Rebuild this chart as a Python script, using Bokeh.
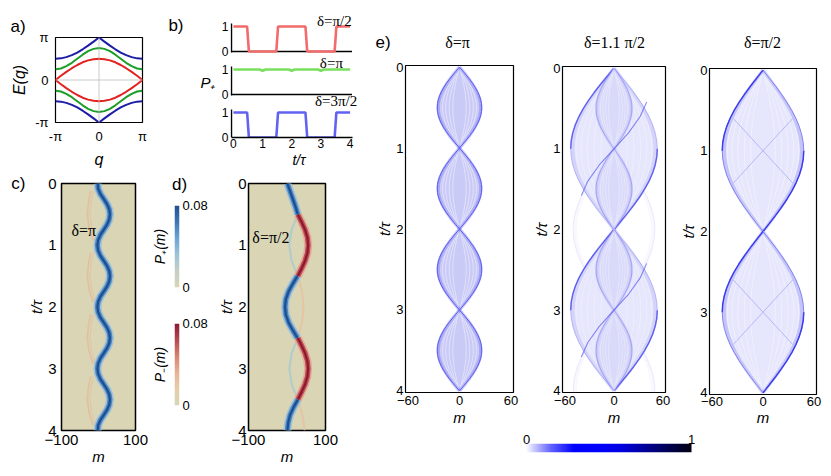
import numpy as np
from bokeh.plotting import figure
from bokeh.layouts import row, column
from bokeh.models import (Label, Span, FixedTicker, Range1d, LinearColorMapper,
                          LinearAxis, Title, Spacer)
from bokeh.embed import file_html
from bokeh.resources import INLINE

SANS = "Liberation Sans"
SERIF = "Liberation Serif"

# ---------------- data ----------------
# (a) quasi-energy bands E(q)
q_vals = [-3.14, -2.75, -2.36, -1.96, -1.57, -1.18, -0.79, -0.39, 0.0,
          0.39, 0.79, 1.18, 1.57, 1.96, 2.36, 2.75, 3.14]
E_red = [0.00, 0.31, 0.60, 0.87, 1.11, 1.31, 1.45, 1.54, 1.57,
         1.54, 1.45, 1.31, 1.11, 0.87, 0.60, 0.31, 0.00]
E_green = [0.79, 0.85, 1.02, 1.27, 1.57, 1.87, 2.13, 2.30, 2.36,
           2.30, 2.13, 1.87, 1.57, 1.27, 1.02, 0.85, 0.79]
E_blue = [1.57, 1.60, 1.69, 1.84, 2.03, 2.27, 2.54, 2.84, 3.14,
          2.84, 2.54, 2.27, 2.03, 1.84, 1.69, 1.60, 1.57]

# (b) P+ vs t/tau
t_b = [0.0, 0.47, 0.53, 1.47, 1.53, 2.47, 2.53, 3.47, 3.53, 4.0]
P_half = [1, 1, 0, 0, 1, 1, 0, 0, 1, 1]
P_3half = [1, 1, 0, 0, 1, 1, 0, 0, 1, 1]
t_g = [0.0, 0.9, 1.0, 1.1, 1.9, 2.0, 2.1, 2.9, 3.0, 3.1, 4.0]
P_pi = [1.0, 1.0, 0.95, 1.0, 1.0, 0.95, 1.0, 1.0, 0.95, 1.0, 1.0]
b_ticks = [0, 1, 2, 3, 4]
P_ticks = [0, 1]

# (c) delta = pi : packet centre
t_c = [0.0, 0.083, 0.167, 0.25, 0.333, 0.417, 0.5, 0.583, 0.667, 0.75, 0.833, 0.917,
       1.0, 1.083, 1.167, 1.25, 1.333, 1.417, 1.5, 1.583, 1.667, 1.75, 1.833, 1.917,
       2.0, 2.083, 2.167, 2.25, 2.333, 2.417, 2.5, 2.583, 2.667, 2.75, 2.833, 2.917,
       3.0, 3.083, 3.167, 3.25, 3.333, 3.417, 3.5, 3.583, 3.667, 3.75, 3.833, 3.917, 4.0]
m_c = [-2, -1, 5, 14, 23, 29, 31, 29, 23, 14, 5, -1,
       -3, -1, 5, 14, 23, 29, 31, 29, 23, 14, 5, -1,
       -3, -1, 5, 14, 23, 29, 31, 29, 23, 14, 5, -1,
       -3, -1, 5, 14, 23, 29, 31, 29, 23, 14, 5, -1, -2]
arc_t = [0.12, 0.3, 0.5, 0.7, 0.92]
arc_m_outer = [-21, -27, -30, -26, -15]
arc_m_inner = [-14, -20, -23, -19, -9]
arc_periods = [0, 1, 2, 3]

# (d) delta = pi/2
d_blue_t = [[0.0, 0.125, 0.25, 0.375, 0.5],
            [1.5, 1.625, 1.75, 1.875, 2.0, 2.125, 2.25, 2.375, 2.5],
            [3.5, 3.625, 3.75, 3.875, 4.0]]
d_blue_m = [[1, 8, 15, 22, 28],
            [27, 15, 4, -3, -5, -3, 4, 15, 27],
            [28, 17, 8, 3, 1]]
d_red_t = [[0.5, 0.625, 0.75, 0.875, 1.0, 1.125, 1.25, 1.375, 1.5],
           [2.5, 2.625, 2.75, 2.875, 3.0, 3.125, 3.25, 3.375, 3.5]]
d_red_m = [[28, 38, 47, 53, 55, 53, 47, 38, 28],
           [28, 38, 47, 53, 55, 53, 47, 38, 28]]
d_fblue_t = [[0.55, 0.75, 1.0, 1.25, 1.45], [2.55, 2.75, 3.0, 3.25, 3.45]]
d_fblue_m = [[25, 12, 6, 12, 25], [25, 12, 6, 12, 25]]
d_fred_t = [[1.55, 1.75, 2.0, 2.25, 2.45], [3.55, 3.75, 4.0]]
d_fred_m = [[31, 39, 43, 39, 31], [31, 40, 46]]

# (e) walker envelopes
lens_s = [0.0, 0.05, 0.1, 0.15, 0.2, 0.25, 0.3, 0.35, 0.4, 0.45, 0.5,
          0.55, 0.6, 0.65, 0.7, 0.75, 0.8, 0.85, 0.9, 0.95, 1.0]
lens_prof = [0.0, 0.156, 0.309, 0.454, 0.588, 0.707, 0.809, 0.891, 0.951, 0.988, 1.0,
             0.988, 0.951, 0.891, 0.809, 0.707, 0.588, 0.454, 0.309, 0.156, 0.0]
pi_starts = [0, 1, 2, 3]
pi_hw = 26
mid_big_starts = [0, 2]
mid_big_hw = 53
mid_ghost_starts = [1, 3]
mid_ghost_hw = 50
mid_small_starts = [0, 1, 2, 3]
mid_small_hw = 22
mid_s_t = [0.42, 0.6, 0.8, 1.0, 1.2, 1.4, 1.58]
mid_s_m = [40, 32, 18, 0, -18, -32, -40]
mid_s_offsets = [0, 2]
half_starts = [0, 2]
half_hw = 48
half_x_t = [0.6, 1.0, 1.4]
half_x_m = [-35, 0, 35]
half_x_offsets = [0, 2]

cb_levels = np.linspace(0.0, 1.0, 256)


# ---------------- helpers ----------------
def ramp(anchors, n=256):
    rgb = [tuple(int(h[i:i + 2], 16) for i in (1, 3, 5)) for h in anchors]
    out = []
    for k in range(n):
        f = k / (n - 1) * (len(rgb) - 1)
        i = min(int(f), len(rgb) - 2)
        u = f - i
        c = tuple(round(rgb[i][j] + (rgb[i + 1][j] - rgb[i][j]) * u) for j in range(3))
        out.append("#%02x%02x%02x" % c)
    return out


TAN = "#D9D5B5"
pal_plus = ramp([TAN, "#C3D0C4", "#9DC3D6", "#6CA5D4", "#3C77B5", "#23508F"])
pal_minus = ramp([TAN, "#E6CDAA", "#E8B394", "#D5866F", "#B44B52", "#8B1A30"])
pal_e = ramp(["#F8F8FF", "#6464FF", "#0000FF", "#0000FF", "#0000E0", "#00009A", "#000050", "#000010"])


def base_fig(w, h, xr, yr, l, r, t, b, **kw):
    p = figure(width=w, height=h, x_range=xr, y_range=yr,
               min_border_left=l, min_border_right=r, min_border_top=t, min_border_bottom=b,
               output_backend="svg", toolbar_location=None, **kw)
    p.grid.visible = False
    p.border_fill_color = "white"
    p.background_fill_color = "white"
    p.outline_line_color = "black"
    p.outline_line_width = 1.2
    return p


def style_axis(ax, fs="13px", standoff=4, lab_fs="15px", lab_standoff=2, line=False):
    ax.major_label_text_font = SANS
    ax.major_label_text_font_size = fs
    ax.major_label_text_color = "black"
    ax.major_label_standoff = standoff
    ax.axis_label_text_font = SANS
    ax.axis_label_text_font_size = lab_fs
    ax.axis_label_text_font_style = "italic"
    ax.axis_label_text_color = "black"
    ax.axis_label_standoff = lab_standoff
    ax.major_tick_line_color = None
    ax.minor_tick_line_color = None
    ax.major_tick_out = 0
    ax.major_tick_in = 0
    ax.minor_tick_out = 0
    ax.minor_tick_in = 0
    if line:
        ax.axis_line_color = "black"
        ax.axis_line_width = 1.5
    else:
        ax.axis_line_color = None


def text_axis(p, side, tick, text, fs="17px", standoff=0, style="normal", font=SANS):
    ax = LinearAxis(ticker=FixedTicker(ticks=[tick]), major_label_overrides={tick: text})
    style_axis(ax, fs=fs, standoff=standoff)
    ax.major_label_text_font_style = style
    ax.major_label_text_font = font
    p.add_layout(ax, side)
    return ax


def lab(p, x, y, text, size="16px", font=SANS, style="normal", align="left", angle=0.0, **kw):
    p.add_layout(Label(x=x, y=y, text=text, text_font=font, text_font_size=size,
                       text_font_style=style, text_align=align, text_baseline="middle",
                       angle=angle, text_color="black", **kw))


# ---------------- (a) ----------------
pa = base_fig(157, 162, Range1d(-3.1416, 3.1416), Range1d(-3.1416, 3.1416), 46, 23, 29, 46)
for ax in (pa.xaxis[0], pa.yaxis[0]):
    style_axis(ax, fs="13px", standoff=6, lab_fs="16px", lab_standoff=4)
    ax.ticker = FixedTicker(ticks=[-3.14159, 0, 3.14159])
    ax.major_label_overrides = {-3.14159: "-π", 0: "0", 3.14159: "π"}
pa.xaxis.axis_label = "q"
pa.yaxis.axis_label = "E(q)"
pa.yaxis.major_label_standoff = 7
pa.add_layout(Span(location=0, dimension="width", line_color="#BDBDBD", line_width=0.8))
pa.add_layout(Span(location=0, dimension="height", line_color="#BDBDBD", line_width=0.8))
for col, arr in (("#1C1CA6", E_blue), ("#1E9E28", E_green), ("#E3211E", E_red)):
    pa.line(q_vals, arr, line_color=col, line_width=2)
    pa.line(q_vals, [-v for v in arr], line_color=col, line_width=2)
pa.add_layout(Title(text="a)", align="left", offset=-45, standoff=4, text_font=SANS,
                    text_font_size="17px", text_font_style="normal", text_color="black"), "above")

# ---------------- (b) : three stacked strips sharing one time axis ----------------
t_lo, t_hi = -0.067, 4.067        # extent of the drawn time axis
P_lo, P_hi = -0.04, 1.12          # extent of each drawn P+ axis
pb = base_fig(205, 162, Range1d(-0.1, 4.597), Range1d(0, 5.0), 62, 3, 4, 33)
pb.outline_line_color = None
pb.extra_y_ranges = {"top": Range1d(-3.44, 1.56), "mid": Range1d(-1.72, 3.28)}
style_axis(pb.xaxis[0], fs="12px", standoff=1, lab_fs="14px", lab_standoff=1, line=True)
pb.xaxis.ticker = FixedTicker(ticks=b_ticks)
pb.xaxis.bounds = (t_lo, t_hi)
pb.xaxis.axis_label = "t/τ"
# P+ tick labels of the three strips (positions expressed in the bottom strip's units)
strip_offsets = {"top": 3.44, "mid": 1.72, "default": 0.0}
yt = sorted(o + v for o in strip_offsets.values() for v in P_ticks)
style_axis(pb.yaxis[0], fs="12px", standoff=2)
pb.yaxis.ticker = FixedTicker(ticks=yt)
pb.yaxis.major_label_overrides = {o + v: str(v) for o in strip_offsets.values() for v in P_ticks}
for nm in ("top", "mid", "default"):
    pb.segment(x0=[t_lo], y0=[P_lo if nm != "default" else 0], x1=[t_lo], y1=[P_hi],
               line_color="black", line_width=1.5, y_range_name=nm)
for nm in ("top", "mid"):
    pb.segment(x0=[t_lo], y0=[0], x1=[t_hi], y1=[0], line_color="black", line_width=1.5,
               y_range_name=nm)
pb.line(t_b, P_half, line_color="#F26A6A", line_width=2.6, y_range_name="top")
pb.line(t_g, P_pi, line_color="#78E05C", line_width=2.6, y_range_name="mid")
pb.line(t_b, P_3half, line_color="#6262F2", line_width=2.6)
lab(pb, 3.46, 1.24, "δ=π/2", size="15px", font=SERIF, align="center", y_range_name="top")
lab(pb, 3.36, 1.28, "δ=π", size="15px", font=SERIF, align="center", y_range_name="mid")
lab(pb, 3.52, 1.48, "δ=3π/2", size="15px", font=SERIF, align="center")
text_axis(pb, "left", 2.2, "P₊", fs="15px", standoff=3, style="italic")
text_axis(pb, "left", 4.48, "b)", fs="17px", standoff=14)


# ---------------- (c), (d) ----------------
def heat_fig(w, l, r, ystand=5):
    p = base_fig(w, 298, Range1d(-100, 100), Range1d(4, 0), l, r, 13, 38)
    p.background_fill_color = TAN
    p.outline_line_width = 1.5
    style_axis(p.xaxis[0], fs="15px", standoff=4, lab_fs="15px", lab_standoff=0)
    style_axis(p.yaxis[0], fs="15px", standoff=ystand, lab_fs="15px", lab_standoff=0)
    p.xaxis.ticker = FixedTicker(ticks=[-100, 100])
    p.xaxis.major_label_overrides = {-100: "−100", 100: "100"}
    p.yaxis.ticker = FixedTicker(ticks=[0, 1, 2, 3, 4])
    p.xaxis.axis_label = "m"
    p.yaxis.axis_label = "t/τ"
    return p


def thick(p, xs, ys, kind):
    if kind == "blue":
        cols = [("#9CC0DA", 8, 0.9), ("#4A86C2", 5, 1.0), ("#1E4E8E", 2.2, 1.0)]
    else:
        cols = [("#E2A792", 8, 0.9), ("#BE4B55", 5, 1.0), ("#8A1A2E", 2.2, 1.0)]
    for c, w, a in cols:
        p.multi_line(xs, ys, line_color=c, line_width=w, line_alpha=a, line_cap="butt", line_join="round")


pc = heat_fig(140, 45, 13)
for k in arc_periods:
    tt = [t + k for t in arc_t]
    pc.line(arc_m_outer, tt, line_color="#E8B596", line_width=1.6, line_alpha=0.7)
    pc.line(arc_m_inner, tt, line_color="#E8B596", line_width=1.2, line_alpha=0.45)
thick(pc, [m_c], [t_c], "blue")
lab(pc, -73, 0.76, "δ=π", size="16px", font=SERIF)
text_axis(pc, "left", 0, "c)", fs="17px", standoff=0)

pd_ = heat_fig(155, 28, 45, ystand=2)
pd_.multi_line(d_fblue_m, d_fblue_t, line_color="#A8C9D2", line_width=2, line_alpha=0.8)
pd_.multi_line(d_fred_m, d_fred_t, line_color="#E9BFA0", line_width=2, line_alpha=0.8)
thick(pd_, d_red_m, d_red_t, "red")
thick(pd_, d_blue_m, d_blue_t, "blue")
lab(pd_, -90, 0.87, "δ=π/2", size="16px", font=SERIF)


# colour bars for (c)/(d)
def vbar_fig(h, t, b, pal, title):
    p = base_fig(67, h, Range1d(0, 1), Range1d(0, 0.08), 25, 36, t, b,
                 x_axis_location=None, y_axis_location="right")
    p.outline_line_color = None
    style_axis(p.yaxis[0], fs="13px", standoff=3)
    p.yaxis.ticker = FixedTicker(ticks=[0, 0.08])
    p.yaxis.major_label_overrides = {0: "0", 0.08: "0.08"}
    mapper = LinearColorMapper(palette=pal, low=0, high=1)
    p.image(image=[cb_levels.reshape(-1, 1)], x=0, y=0, dw=1, dh=0.08, color_mapper=mapper)
    ax = LinearAxis(ticker=FixedTicker(ticks=[]), axis_label=title)
    style_axis(ax, fs="13px", standoff=0, lab_fs="14px", lab_standoff=7)
    p.add_layout(ax, "left")
    return p


cb1 = vbar_fig(130, 35, 13, pal_plus, "P₊(m)")
cb2 = vbar_fig(168, 23, 63, pal_minus, "P₋(m)")
text_axis(cb1, "above", 1, "d)", fs="17px", standoff=12)

# ---------------- (e) ----------------
ring_fracs = [0.88, 0.76, 0.62, 0.46, 0.3]


def lens(p, t0, dur, hw, fill, falpha, edge, ealpha, ring_alpha, heavy=None, heavy_alpha=0.9):
    ts = [t0 + dur * s for s in lens_s]
    r = [hw * v for v in lens_prof]
    if falpha > 0:
        p.patch(r + [-v for v in r[::-1]], ts + ts[::-1], fill_color=fill, fill_alpha=falpha, line_color=None)
    if ring_alpha > 0:
        for f in ring_fracs:
            p.multi_line([[f * v for v in r], [-f * v for v in r]], [ts, ts],
                         line_color="white", line_alpha=ring_alpha, line_width=0.8)
    p.multi_line([[0.95 * v for v in r], [-0.95 * v for v in r]], [ts, ts],
                 line_color=edge, line_alpha=0.35 * ealpha, line_width=3.5)
    p.multi_line([r, [-v for v in r]], [ts, ts], line_color=edge, line_alpha=ealpha, line_width=1.0)
    if heavy:
        h = len(ts) // 2 + 1
        p.multi_line([[-v for v in r[:h]], r[h - 1:]], [ts[:h], ts[h - 1:]],
                     line_color=heavy, line_width=1.5, line_alpha=heavy_alpha)


def e_fig(w, l, r, t, b, xlab_standoff=1):
    p = base_fig(w, 371, Range1d(-63, 63), Range1d(4.02, -0.02), l, r, t, b)
    style_axis(p.xaxis[0], fs="13px", standoff=3, lab_fs="15px", lab_standoff=xlab_standoff)
    style_axis(p.yaxis[0], fs="13px", standoff=2, lab_fs="15px", lab_standoff=0)
    p.xaxis.ticker = FixedTicker(ticks=[-60, 0, 60])
    p.xaxis.major_label_overrides = {-60: "−60", 0: "0", 60: "60"}
    p.yaxis.ticker = FixedTicker(ticks=[0, 1, 2, 3, 4])
    p.xaxis.axis_label = "m"
    p.yaxis.axis_label = "t/τ"
    return p


e1 = e_fig(160, 35, 17, 8, 36)
for s0 in pi_starts:
    lens(e1, s0, 1, pi_hw, "#CACAF7", 1.0, "#5050EE", 0.9, 0.55)

e2 = e_fig(147, 27, 12, 9, 36)
for s0 in mid_ghost_starts:
    lens(e2, s0, 2, mid_ghost_hw, "#E8E8FD", 0.0, "#9090F2", 0.18, 0.0)
for s0 in mid_big_starts:
    lens(e2, s0, 2, mid_big_hw, "#E3E3FC", 0.9, "#7070F0", 0.45, 0.4, heavy="#3C3CEE", heavy_alpha=0.7)
for s0 in mid_small_starts:
    lens(e2, s0, 1, mid_small_hw, "#CDCDF7", 0.55, "#6060EE", 0.4, 0.4)
e2.multi_line([mid_s_m for _ in mid_s_offsets], [[t + o for t in mid_s_t] for o in mid_s_offsets],
              line_color="#4040EE", line_width=1.1, line_alpha=0.6)

e3 = e_fig(146, 31, 7, 11, 34, xlab_standoff=0)
e3.xaxis.major_label_standoff = 2
for s0 in half_starts:
    lens(e3, s0, 2, half_hw, "#E6E6FC", 1.0, "#6A6AF0", 0.8, 0.5, heavy="#3434EE")
e3.multi_line([half_x_m for _ in half_x_offsets] + [[-v for v in half_x_m] for _ in half_x_offsets],
              [[t + o for t in half_x_t] for o in half_x_offsets] * 2,
              line_color="#9A9AF4", line_width=0.9, line_alpha=0.7)

# text strip with the (e) titles (frame = whole strip, x in pixels from the strip's left)
strip = figure(width=453, height=49, x_range=Range1d(0, 453), y_range=Range1d(0, 49),
               min_border_left=0, min_border_right=0, min_border_top=0, min_border_bottom=0,
               x_axis_location=None, y_axis_location=None,
               output_backend="svg", toolbar_location=None)
strip.grid.visible = False
strip.outline_line_color = None
lab(strip, 5, 15, "e)", size="17px")
lab(strip, 87, 15, "δ=π", size="16px", font=SERIF, align="center")
lab(strip, 244, 15, "δ=1.1 π/2", size="16px", font=SERIF, align="center")
lab(strip, 392, 15, "δ=π/2", size="16px", font=SERIF, align="center")

# horizontal colour bar for (e): frame spans the full width, bar occupies [0, 1]
cbe = base_fig(453, 40, Range1d(-0.9455, 1.8), Range1d(0, 1), 0, 0, 15, 16,
               x_axis_location="above", y_axis_location=None)
cbe.outline_line_color = None
style_axis(cbe.xaxis[0], fs="13px", standoff=0)
cbe.xaxis.ticker = FixedTicker(ticks=[0, 1])
cbe.image(image=[cb_levels.reshape(1, -1)], x=0, y=0, dw=1, dh=1,
          color_mapper=LinearColorMapper(palette=pal_e, low=0, high=1))

# ---------------- layout ----------------
# single-child columns keep each plot's own frame position (no cross-plot frame alignment)
left = column(row(column(pa), column(pb)),
              row(column(pc), column(cb1, cb2), column(pd_)))
right = column(strip, row(column(e1), column(e2), column(e3)), cbe)
page = column(Spacer(width=823, height=8), row(Spacer(width=8, height=460), row(left, right)))

open("out.html", "w").write(file_html(page, INLINE))
